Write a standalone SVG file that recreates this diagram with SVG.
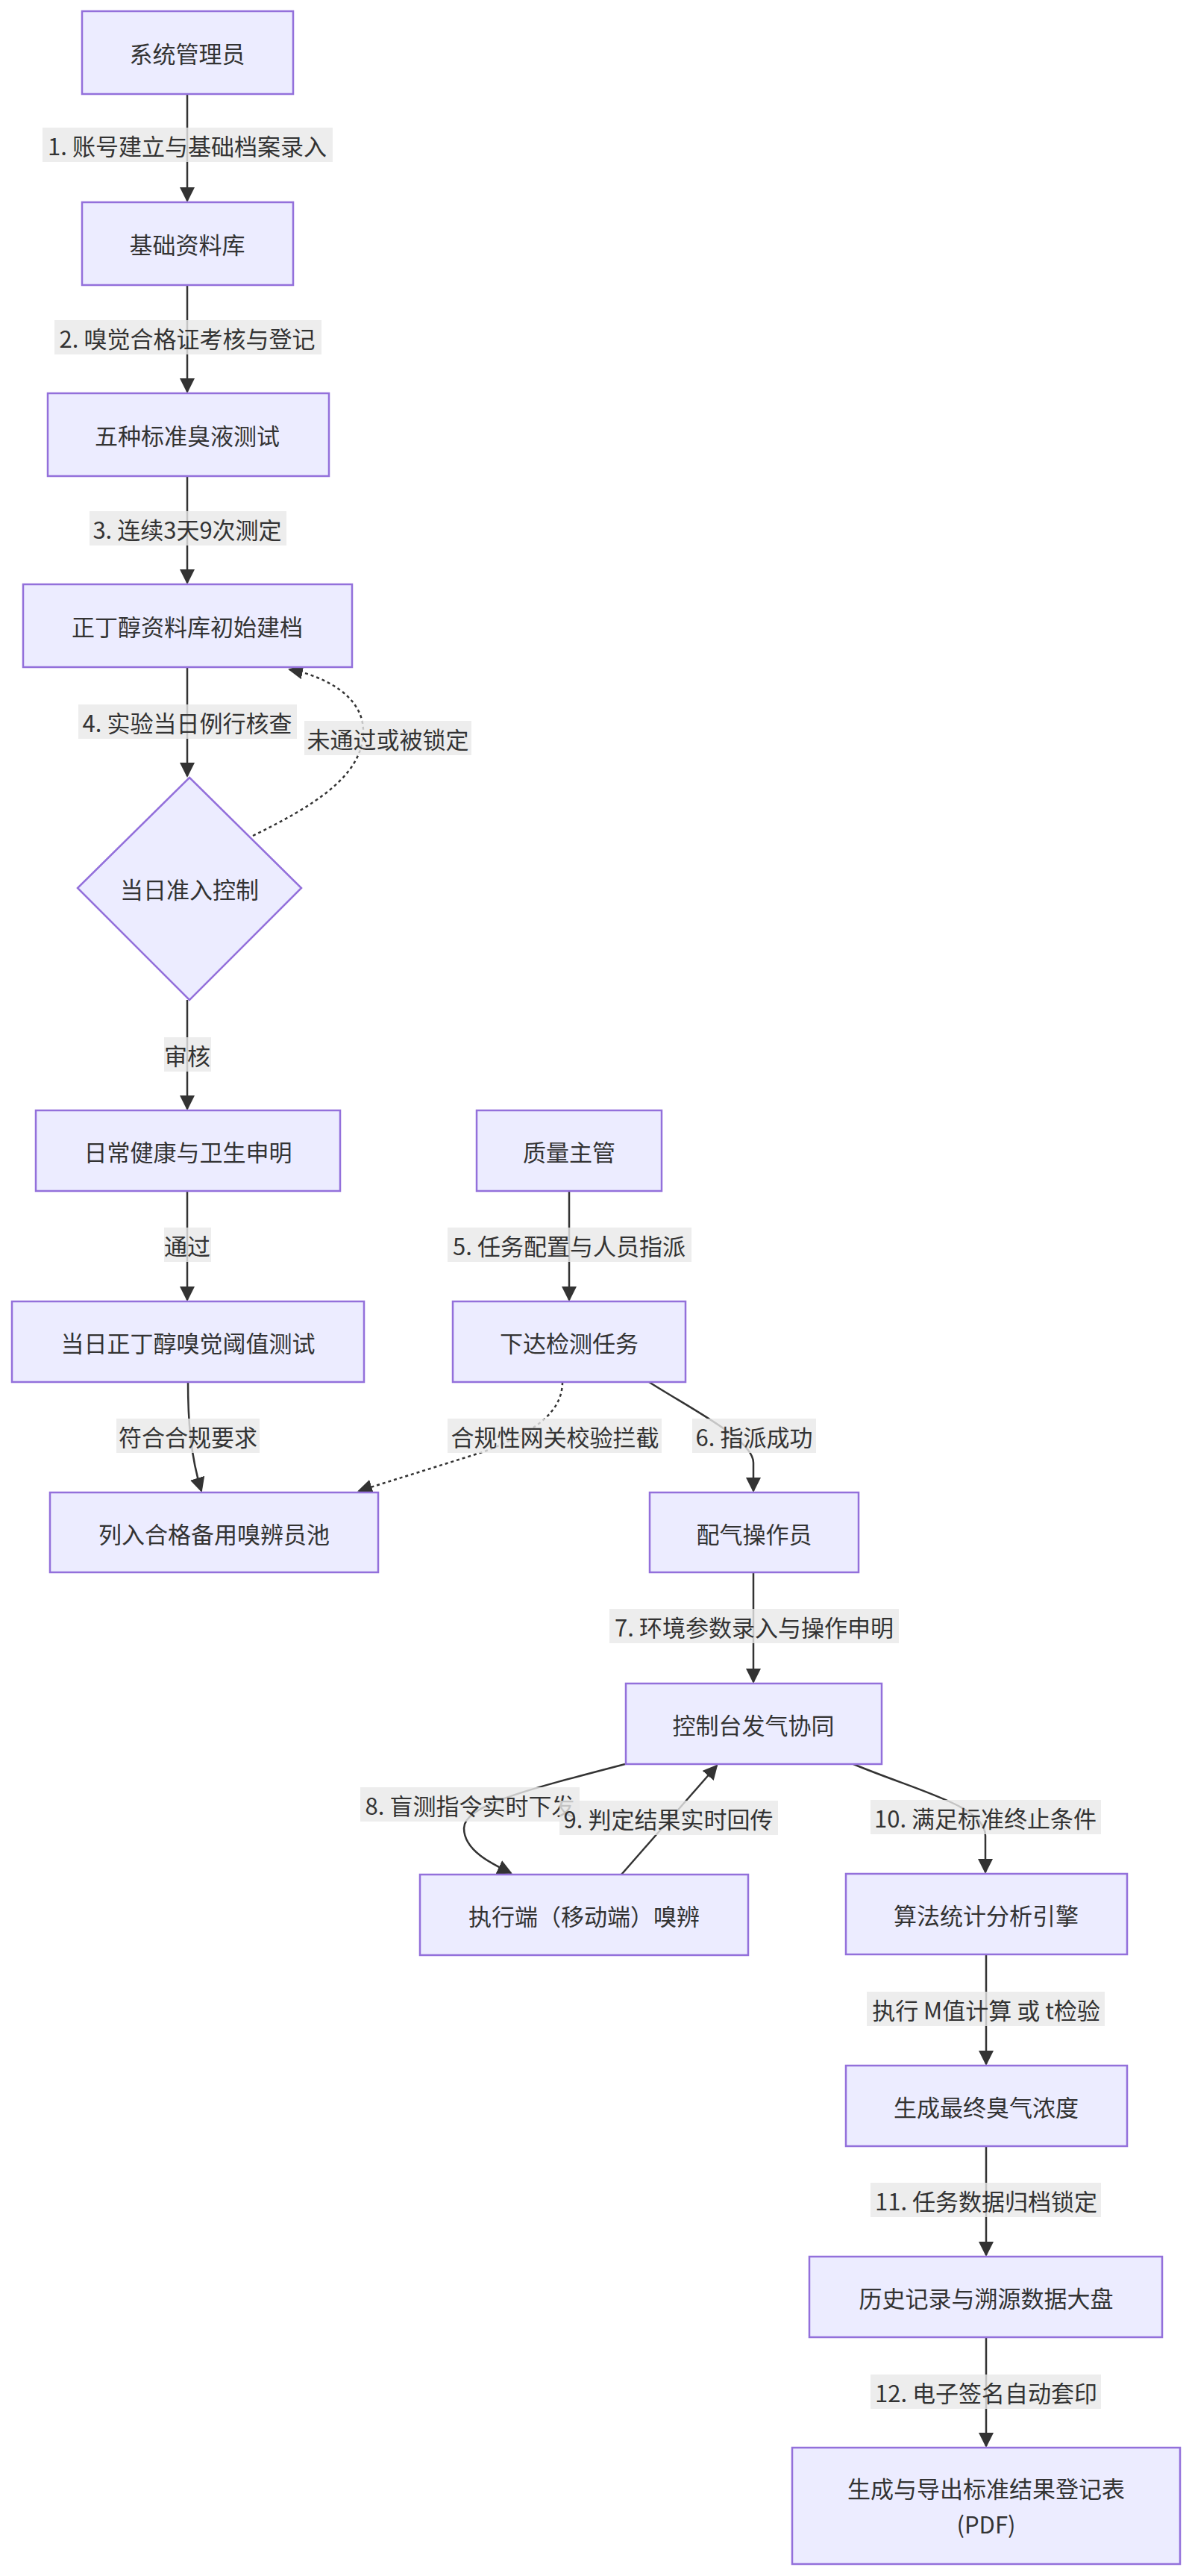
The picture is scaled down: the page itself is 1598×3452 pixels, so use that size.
<svg xmlns="http://www.w3.org/2000/svg" width="1598" height="3452" viewBox="0 0 1598 3452">
<style>
.n{fill:#ECECFF;stroke:#9370DB;stroke-width:2.5}
text{font-family:"Noto Sans CJK SC","Noto Sans",sans-serif;font-size:31px;fill:#333;text-anchor:middle;dominant-baseline:central}
.e{fill:none;stroke:#333;stroke-width:2.5}
.d{stroke-dasharray:4 4}
.lb{fill:rgba(232,232,232,0.8)}
</style>
<defs><marker id="a" viewBox="0 0 10 10" refX="9" refY="5" markerWidth="9" markerHeight="9" markerUnits="userSpaceOnUse" orient="auto"><path d="M0,0L10,5L0,10z" fill="#333"/></marker>
<marker id="ah" viewBox="0 0 10 10" refX="9" refY="5" markerWidth="20" markerHeight="20" markerUnits="userSpaceOnUse" orient="auto"><path d="M0,0L10,5L0,10z" fill="#333"/></marker></defs>
<g id="edges">
<path class="e" d="M251,126V269" marker-end="url(#ah)"/>
<path class="e" d="M251,382V525" marker-end="url(#ah)"/>
<path class="e" d="M251,638V781" marker-end="url(#ah)"/>
<path class="e" d="M251,894V1040" marker-end="url(#ah)"/>
<path class="e d" d="M339,1120C420,1080 487,1040 487,980C487,930 430,905 388,897" marker-end="url(#ah)"/>
<path class="e" d="M251,1340V1486" marker-end="url(#ah)"/>
<path class="e" d="M251,1596V1742" marker-end="url(#ah)"/>
<path class="e" d="M252,1852C252,1900 255,1950 270,1998" marker-end="url(#ah)"/>
<path class="e" d="M763,1596V1742" marker-end="url(#ah)"/>
<path class="e d" d="M754,1852C754,1900 700,1925 650,1945L481,1998" marker-end="url(#ah)"/>
<path class="e" d="M870,1852C930,1890 1010,1930 1010,1960L1010,1998" marker-end="url(#ah)"/>
<path class="e" d="M1010,2107V2254" marker-end="url(#ah)"/>
<path class="e" d="M838,2364C700,2400 622,2420 622,2450C622,2480 660,2498 685,2510" marker-end="url(#ah)"/>
<path class="e" d="M833,2512L961,2366" marker-end="url(#ah)"/>
<path class="e" d="M1144,2364C1230,2400 1321,2420 1321,2460L1321,2509" marker-end="url(#ah)"/>
<path class="e" d="M1322,2619V2766" marker-end="url(#ah)"/>
<path class="e" d="M1322,2876V3022" marker-end="url(#ah)"/>
<path class="e" d="M1322,3132V3278" marker-end="url(#ah)"/>
</g>
<g id="labels">
<rect class="lb" x="57" y="171" width="389" height="46"/><text x="251" y="194">1. 账号建立与基础档案录入</text>
<rect class="lb" x="73" y="429" width="358" height="46"/><text x="251" y="452">2. 嗅觉合格证考核与登记</text>
<rect class="lb" x="120" y="685" width="264" height="46"/><text x="251" y="708">3. 连续3天9次测定</text>
<rect class="lb" x="105" y="944" width="293" height="46"/><text x="251" y="967">4. 实验当日例行核查</text>
<rect class="lb" x="408" y="966" width="224" height="46"/><text x="520" y="989">未通过或被锁定</text>
<rect class="lb" x="220" y="1390" width="63" height="46"/><text x="251" y="1413">审核</text>
<rect class="lb" x="220" y="1645" width="63" height="46"/><text x="251" y="1668">通过</text>
<rect class="lb" x="600" y="1645" width="327" height="46"/><text x="763" y="1668">5. 任务配置与人员指派</text>
<rect class="lb" x="156" y="1901" width="192" height="46"/><text x="252" y="1924">符合合规要求</text>
<rect class="lb" x="600" y="1901" width="287" height="46"/><text x="744" y="1924">合规性网关校验拦截</text>
<rect class="lb" x="928" y="1901" width="166" height="46"/><text x="1011" y="1924">6. 指派成功</text>
<rect class="lb" x="817" y="2156" width="388" height="46"/><text x="1011" y="2179">7. 环境参数录入与操作申明</text>
<rect class="lb" x="483" y="2395" width="294" height="46"/><text x="630" y="2418">8. 盲测指令实时下发</text>
<rect class="lb" x="750" y="2413" width="293" height="46"/><text x="896" y="2436">9. 判定结果实时回传</text>
<rect class="lb" x="1167" y="2412" width="309" height="46"/><text x="1321" y="2435">10. 满足标准终止条件</text>
<rect class="lb" x="1162" y="2669" width="319" height="46"/><text x="1322" y="2692">执行 M值计算 或 t检验</text>
<rect class="lb" x="1167" y="2925" width="309" height="46"/><text x="1322" y="2948">11. 任务数据归档锁定</text>
<rect class="lb" x="1167" y="3182" width="309" height="46"/><text x="1322" y="3205">12. 电子签名自动套印</text>
</g>
<g id="n1"><rect class="n" x="110" y="15" width="283" height="111"/><text x="251" y="70">系统管理员</text></g>
<g id="n2"><rect class="n" x="110" y="271" width="283" height="111"/><text x="251" y="326">基础资料库</text></g>
<g id="n3"><rect class="n" x="64" y="527" width="377" height="111"/><text x="251" y="582">五种标准臭液测试</text></g>
<g id="n4"><rect class="n" x="31" y="783" width="441" height="111"/><text x="251" y="838">正丁醇资料库初始建档</text></g>
<g id="n5"><path class="n" d="M254,1042L404,1190L254,1340L104,1190Z"/><text x="254" y="1190">当日准入控制</text></g>
<g id="n6"><rect class="n" x="48" y="1488" width="408" height="108"/><text x="252" y="1542">日常健康与卫生申明</text></g>
<g id="n7"><rect class="n" x="639" y="1488" width="248" height="108"/><text x="763" y="1542">质量主管</text></g>
<g id="n8"><rect class="n" x="16" y="1744" width="472" height="108"/><text x="252" y="1798">当日正丁醇嗅觉阈值测试</text></g>
<g id="n9"><rect class="n" x="607" y="1744" width="312" height="108"/><text x="763" y="1798">下达检测任务</text></g>
<g id="n10"><rect class="n" x="67" y="2000" width="440" height="107"/><text x="287" y="2054">列入合格备用嗅辨员池</text></g>
<g id="n11"><rect class="n" x="871" y="2000" width="280" height="107"/><text x="1011" y="2054">配气操作员</text></g>
<g id="n12"><rect class="n" x="839" y="2256" width="343" height="108"/><text x="1010" y="2310">控制台发气协同</text></g>
<g id="n13"><rect class="n" x="563" y="2512" width="440" height="108"/><text x="783" y="2566">执行端（移动端）嗅辨</text></g>
<g id="n14"><rect class="n" x="1134" y="2511" width="377" height="108"/><text x="1322" y="2565">算法统计分析引擎</text></g>
<g id="n15"><rect class="n" x="1134" y="2768" width="377" height="108"/><text x="1322" y="2822">生成最终臭气浓度</text></g>
<g id="n16"><rect class="n" x="1085" y="3024" width="473" height="108"/><text x="1322" y="3078">历史记录与溯源数据大盘</text></g>
<g id="n17"><rect class="n" x="1062" y="3280" width="520" height="156"/><text x="1322" y="3333">生成与导出标准结果登记表</text><text x="1322" y="3381">(PDF)</text></g>
</svg>
